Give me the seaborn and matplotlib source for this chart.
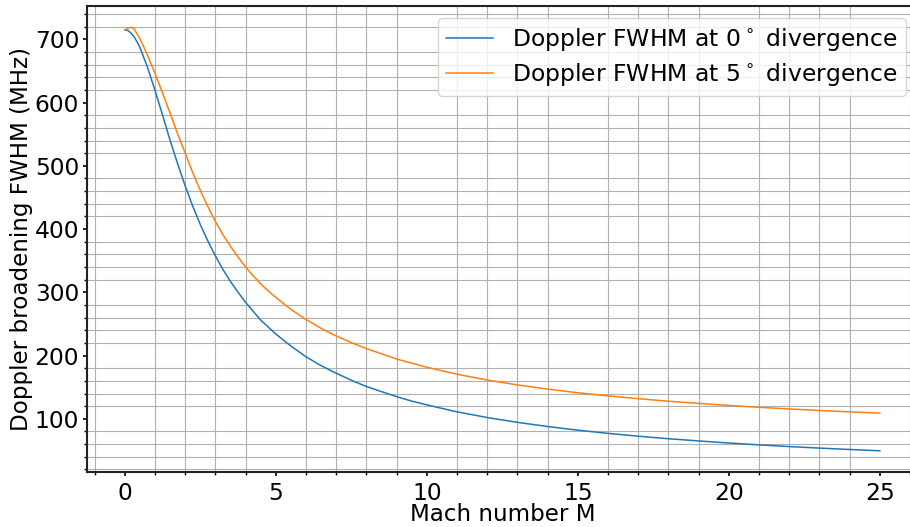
import numpy as np
import pandas as pd
import matplotlib
matplotlib.use("Agg")
import matplotlib.pyplot as plt
import seaborn as sns
from matplotlib.ticker import AutoMinorLocator

# Mach number samples and FWHM values (MHz)
mach_0 = [0, 0.1, 0.2, 0.3, 0.4, 0.5, 0.75, 1, 1.25, 1.5, 1.75, 2, 2.25, 2.5, 2.75,
          3, 3.25, 3.5, 3.75, 4, 4.25, 4.5, 4.75, 5, 5.5, 6, 6.5, 7, 7.5, 8, 8.5,
          9, 9.5, 10, 11, 12, 13, 14, 15, 16, 17, 18, 19, 20, 21, 22, 23, 24, 25]
fwhm_0 = [715, 714, 710, 704.5, 696.5, 687, 656, 619, 580, 540, 503, 468, 436, 407, 381,
          357.5, 336, 317, 300, 284, 270, 256, 245, 234, 215, 198, 184, 172, 161, 151, 143,
          135, 128, 122, 111, 102, 94.4, 87.8, 82, 77, 72.5, 68.5, 65, 61.7, 58.8, 56.1, 53.7, 51.5, 49.4]

mach_5 = [0, 0.1, 0.2, 0.3, 0.4, 0.5, 0.75, 1, 1.25, 1.5, 1.75, 2, 2.25, 2.5, 2.75,
          3, 3.25, 3.5, 3.75, 4, 4.25, 4.5, 4.75, 5, 5.5, 6, 6.5, 7, 7.5, 8,
          9, 10, 11, 12, 13, 14, 15, 16, 17, 18, 19, 20, 21, 22, 23, 24, 25]
fwhm_5 = [715, 717.5, 719, 717, 709, 701, 675, 646, 615, 583, 550.5, 520, 489, 461, 435.5,
          412, 391, 372.7, 355.7, 340, 326, 313.5, 302, 292, 273, 257, 243, 231, 220.5, 211,
          194.5, 181.5, 170.5, 161.3, 153.6, 147, 141.2, 136.2, 131.8, 127.8, 124.3, 121.1,
          118.2, 115.6, 113.2, 111, 109]

labels = [r"Doppler FWHM at 0$^\circ$ divergence", r"Doppler FWHM at 5$^\circ$ divergence"]

df = pd.concat([
    pd.DataFrame({"M": mach_0, "FWHM": fwhm_0, "series": labels[0]}),
    pd.DataFrame({"M": mach_5, "FWHM": fwhm_5, "series": labels[1]}),
], ignore_index=True)

plt.rcParams["font.family"] = ["DejaVu Sans"]
plt.rcParams["mathtext.fontset"] = "dejavusans"

fig = plt.figure(figsize=(9.1, 5.27), dpi=100)
ax = fig.add_axes([0.0957, 0.1044, 0.9126, 0.884])

sns.lineplot(data=df, x="M", y="FWHM", hue="series", hue_order=labels,
             palette=["#1f77b4", "#ff7f0e"], linewidth=1.1, ax=ax, sort=True)

ax.xaxis.set_minor_locator(AutoMinorLocator(5))
ax.yaxis.set_minor_locator(AutoMinorLocator(5))
ax.grid(which="minor", color="#b0b0b0", linewidth=0.8)
ax.grid(which="major", visible=False)
ax.set_axisbelow(True)

for side in ["left", "bottom", "top", "right"]:
    ax.spines[side].set_linewidth(1.5)
    ax.spines[side].set_color("#222222")

ax.tick_params(which="major", length=3, width=1.2, labelsize=16.8)
ax.tick_params(which="minor", length=2, width=1)
ax.tick_params(axis="y", which="major", pad=2.7)
ax.tick_params(axis="x", which="major", pad=4)

ax.set_xlabel("Mach number M", fontsize=16.6, labelpad=-1)
ax.set_ylabel("Doppler broadening FWHM (MHz)", fontsize=16.6, labelpad=1)

handles, _ = ax.get_legend_handles_labels()
ax.legend(handles=handles, labels=labels, loc="upper right", fontsize=16.9,
          frameon=True, framealpha=0.8, labelspacing=0.35, borderpad=0.35)

fig.savefig("out.png", dpi=100)
